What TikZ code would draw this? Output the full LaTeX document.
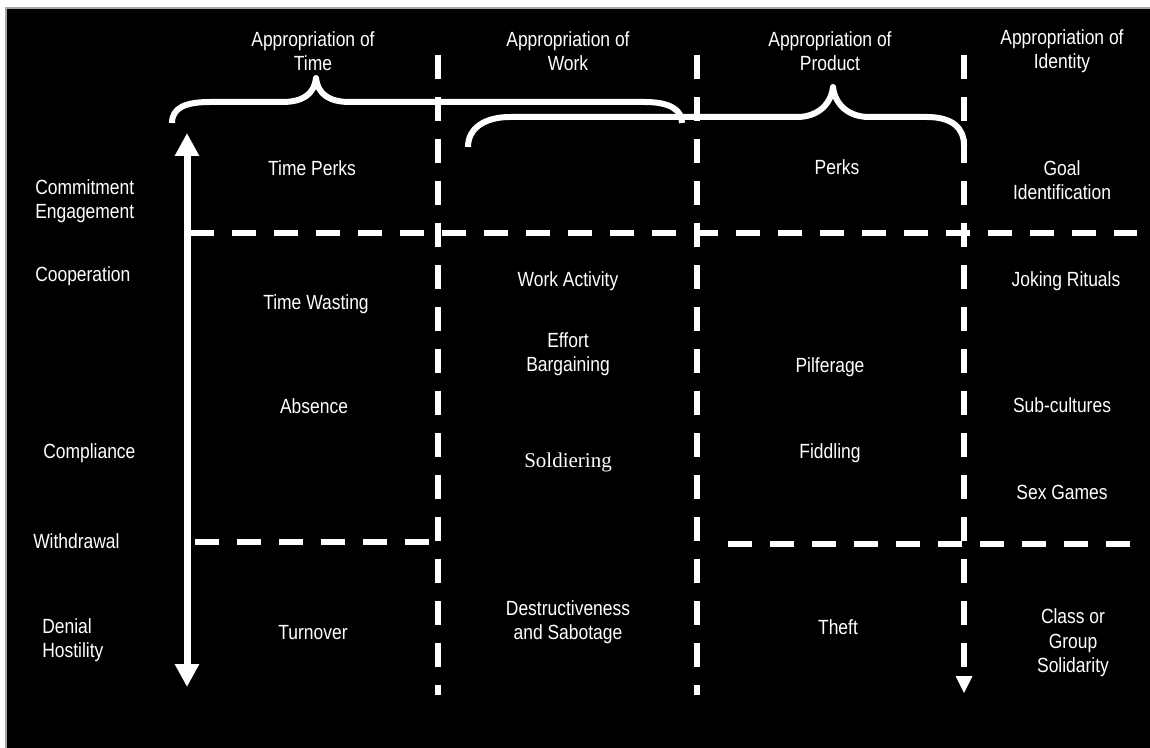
\documentclass[tikz,border=0pt]{standalone}
\usepackage{fontspec}
\newfontfamily\arl{Liberation Sans}[FakeStretch=0.85]
\newfontfamily\tms{Liberation Serif}
\usetikzlibrary{arrows.meta}
\tikzset{
  lbl/.style={text=white, font=\arl\fontsize{15.4}{18.4}\selectfont, align=center, inner sep=0pt},
  lbll/.style={lbl, align=left, anchor=west},
  dline/.style={draw=white, line width=4.5pt, dash pattern=on 18pt off 13.5pt},
  brace/.style={draw=white, line width=4.5pt, line join=round},
}
\begin{document}
\begin{tikzpicture}[x=0.75pt,y=-0.75pt]
\useasboundingbox (0,0) rectangle (1150,748);
\fill[white] (0,0) rectangle (1150,748);
\fill[black] (6,8) rectangle (1150,748);
\draw[gray!70, line width=1.2pt] (6,748) -- (6,8) -- (1150,8);

% vertical dashed lines
\coordinate (a1) at (438,55); \coordinate (a2) at (438,695);
\coordinate (b1) at (697,55); \coordinate (b2) at (697,695);
\coordinate (c1) at (964,55); \coordinate (c2) at (964,668);
\draw[dline] (a1) -- (a2);
\draw[dline] (b1) -- (b2);
\draw[dline] (c1) -- (c2);
\fill[white] (955.5,676) -- (972.5,676) -- (964,693) -- cycle;

% horizontal dashed lines
\coordinate (h1) at (190,233); \coordinate (h2) at (1137,233);
\coordinate (l1) at (195,542); \coordinate (l2) at (430,542);
\coordinate (r1) at (728,544); \coordinate (r2) at (1131,544);
\draw[dline] (h1) -- (h2);
\draw[dline] (l1) -- (l2);
\draw[dline] (r1) -- (r2);

% double arrow
\coordinate (up) at (187,133); \coordinate (dn) at (187,687);
\draw[white, line width=5.25pt, {Triangle[width=17.25pt,length=17.25pt]}-{Triangle[width=17.25pt,length=17.25pt]}] (up) -- (dn);

% braces
\draw[brace] (172,123) .. controls (172,108) and (185,102) .. (210,102) -- (282,102)
  .. controls (302,102) and (314,95) .. (316,78)
  .. controls (318,95) and (330,102) .. (350,102) -- (645,102)
  .. controls (670,102) and (682,110) .. (682,123);
\draw[brace] (468,147) .. controls (468,128) and (485,117) .. (510,117) -- (797,117)
  .. controls (817,117) and (831,105) .. (833,87)
  .. controls (835,105) and (849,117) .. (869,117) -- (927,117)
  .. controls (952,117) and (964,128) .. (964,145);

% headers
\node[lbl] (hT) at (313,51) {Appropriation of\\Time};
\node[lbl] (hW) at (568,51) {Appropriation of\\Work};
\node[lbl] (hP) at (830,51) {Appropriation of\\Product};
\node[lbl] (hI) at (1062,51) {Appropriation of\\Identity};

% left labels
\node[lbll] (ce) at (35,201) {Commitment\\Engagement};
\node[lbll] (co) at (35,276) {Cooperation};
\node[lbll] (cm) at (43,453) {Compliance};
\node[lbll] (wd) at (33,541) {Withdrawal};
\node[lbll] (dh) at (42,640) {Denial\\Hostility};

% column 1
\node[lbl] (tp) at (312,168) {Time Perks};
\node[lbl] (tw) at (316,304) {Time Wasting};
\node[lbl] (ab) at (314,406) {Absence};
\node[lbl] (to) at (313,633) {Turnover};

% column 2
\node[lbl] (wa) at (568,281) {Work Activity};
\node[lbl] (eb) at (568,354) {Effort\\Bargaining};
\node[text=white, font=\tms\fontsize{15.75}{18}\selectfont, inner sep=0pt] (so) at (568,462) {Soldiering};
\node[lbl] (ds) at (568,622) {Destructiveness\\and Sabotage};

% column 3
\node[lbl] (pk) at (837,167) {Perks};
\node[lbl] (pi) at (830,367) {Pilferage};
\node[lbl] (fi) at (830,453) {Fiddling};
\node[lbl] (th) at (838,627) {Theft};

% column 4
\node[lbl] (gi) at (1062,180) {Goal\\Identification};
\node[lbl] (jr) at (1066,281) {Joking Rituals};
\node[lbl] (sc) at (1062,405) {Sub-cultures};
\node[lbl] (sg) at (1062,492) {Sex Games};
\node[lbl] (cg) at (1073,643) {Class or\\Group\\Solidarity};
\end{tikzpicture}
\end{document}
